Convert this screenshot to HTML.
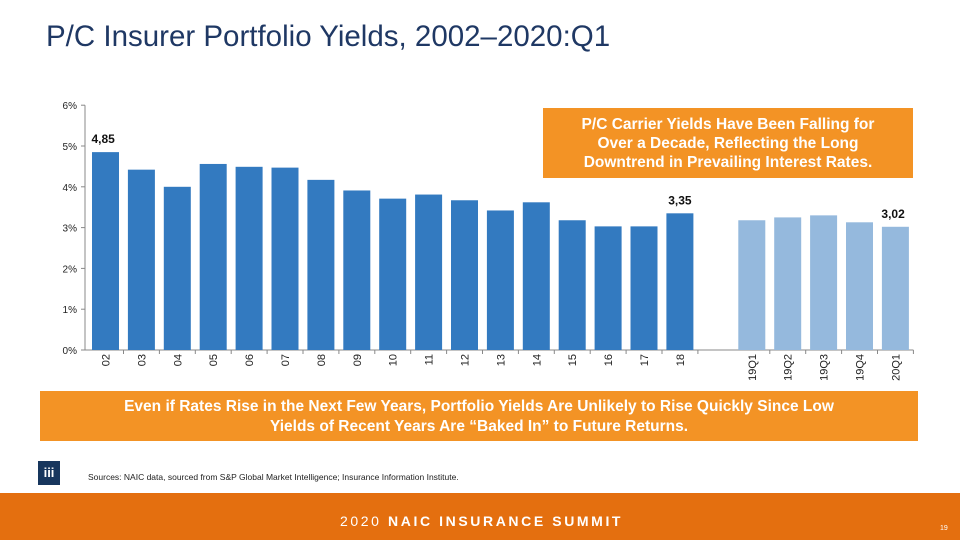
<!DOCTYPE html>
<html><head><meta charset="utf-8"><style>
body{margin:0;width:960px;height:540px;background:#fff;font-family:"Liberation Sans",Arial,sans-serif;position:relative;overflow:hidden}
.t{position:absolute}
</style></head><body>
<div class="t" style="left:46px;top:20px;font-size:29.5px;color:#1f3864">P/C Insurer Portfolio Yields, 2002–2020:Q1</div>
<svg class="t" style="left:0;top:0" width="960" height="540">
<g id="chart"></g>
</svg>
<div class="t" style="left:543px;top:108px;width:370px;height:70px;background:#f39325;color:#fff;font-weight:bold;font-size:15.5px;text-align:center;line-height:19px;padding-top:7px;box-sizing:border-box">P/C Carrier Yields Have Been Falling for<br>Over a Decade, Reflecting the Long<br>Downtrend in Prevailing Interest Rates.</div>
<div class="t" style="left:40px;top:391px;width:878px;height:50px;background:#f39325;color:#fff;font-weight:bold;font-size:15.5px;text-align:center;line-height:20px;padding-top:6px;box-sizing:border-box">Even if Rates Rise in the Next Few Years, Portfolio Yields Are Unlikely to Rise Quickly Since Low<br>Yields of Recent Years Are “Baked In” to Future Returns.</div>
<div class="t" style="left:38px;top:461px;width:22px;height:24px;background:#17365d;color:#fff;font-size:13px;font-weight:bold;text-align:center;line-height:24px">iii</div>
<div class="t" style="left:88px;top:472px;font-size:8.5px;color:#222">Sources: NAIC data, sourced from S&amp;P Global Market Intelligence; Insurance Information Institute.</div>
<div class="t" style="left:0;top:493px;width:960px;height:47px;background:#e46f0f"></div>
<div class="t" style="left:340px;top:513px;font-size:14px;color:#fff;letter-spacing:2.6px">2020 <b>NAIC INSURANCE SUMMIT</b></div>
<div class="t" style="left:940px;top:525px;font-size:7px;color:#fff">19</div>
<script>
const categories=["02","03","04","05","06","07","08","09","10","11","12","13","14","15","16","17","18","19Q1","19Q2","19Q3","19Q4","20Q1"];
const values=[4.85,4.42,4.0,4.56,4.49,4.47,4.17,3.91,3.71,3.81,3.67,3.42,3.62,3.18,3.03,3.03,3.35,3.18,3.25,3.30,3.13,3.02];
const labels={0:"4,85",16:"3,35",21:"3,02"};
const yTicks=[0,1,2,3,4,5,6];
const NS="http://www.w3.org/2000/svg";
const g=document.getElementById('chart');
const y0=350,pxPer=40.8;
const yS=v=>y0-v*pxPer;
const xS=i=>105.5+i*35.9+(i>=17?36:0);
function el(t,a){const e=document.createElementNS(NS,t);for(const k in a)e.setAttribute(k,a[k]);g.appendChild(e);return e;}
const ax=el('line',{x1:85,y1:yS(6),x2:85,y2:y0,stroke:'#888'});


const xa=el('line',{x1:85,y1:y0,x2:xS(21)+18,y2:y0,stroke:'#888'});


yTicks.forEach(v=>{
 el('line',{x1:81,x2:85,y1:yS(v),y2:yS(v),stroke:'#888'});
 const t=el('text',{x:77,y:yS(v)+4,'text-anchor':'end','font-size':10,fill:'#222'});t.textContent=v+'%';
 
 
});
categories.forEach((c,i)=>{
 const x=xS(i),v=values[i];
 const r=el('rect',{x:x-13.5,y:yS(v),width:27,height:y0-yS(v),fill:i>=17?'#95b9dd':'#337ac0'});
 
 
 el('line',{x1:x+18,x2:x+18,y1:y0,y2:y0+4,stroke:'#888'});
 const t=el('text',{transform:`translate(${x+4},${y0+4}) rotate(-90)`,'text-anchor':'end','font-size':11,fill:'#222'});t.textContent=c;
 
 
 if(labels[i]){const l=el('text',{x:i==0?x-14:x+(i==21?-14:0),y:yS(v)-9,'text-anchor':i==0?'start':(i==21?'start':'middle'),'font-size':12,'font-weight':'bold',fill:'#111'});
 l.textContent=labels[i];
 
 }
});
</script>
</body></html>
